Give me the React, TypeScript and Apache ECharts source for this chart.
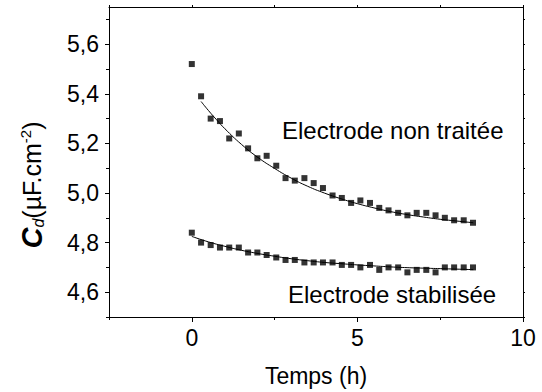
import React, { useEffect, useRef } from "react";
import * as echarts from "echarts";

// Time (h) of each measurement
const hours = [0, 0.28, 0.57, 0.85, 1.13, 1.42, 1.7, 1.98, 2.26, 2.55, 2.83, 3.11, 3.4, 3.68, 3.96, 4.25, 4.53, 4.81, 5.09, 5.38, 5.66, 5.94, 6.23, 6.51, 6.79, 7.08, 7.36, 7.64, 7.92, 8.21, 8.49];
// Electrode non traitée (µF.cm-2)
const untreated = [5.52, 5.39, 5.3, 5.29, 5.22, 5.24, 5.18, 5.14, 5.15, 5.11, 5.06, 5.05, 5.06, 5.04, 5.02, 4.99, 4.98, 4.96, 4.97, 4.96, 4.94, 4.93, 4.92, 4.91, 4.92, 4.92, 4.91, 4.9, 4.89, 4.89, 4.88];
// Electrode stabilisée (µF.cm-2)
const stabilized = [4.84, 4.8, 4.79, 4.78, 4.78, 4.78, 4.76, 4.76, 4.75, 4.74, 4.73, 4.73, 4.72, 4.72, 4.72, 4.72, 4.71, 4.71, 4.7, 4.71, 4.69, 4.7, 4.7, 4.68, 4.69, 4.69, 4.68, 4.7, 4.7, 4.7, 4.7];
// Fitted curves
const fitX1 = [0.28, 0.5, 0.75, 1, 1.5, 2, 2.5, 3, 3.5, 4, 4.5, 5, 5.5, 6, 6.5, 7, 7.5, 8, 8.5];
const fitY1 = [5.369, 5.333, 5.295, 5.259, 5.196, 5.143, 5.099, 5.06, 5.027, 5.0, 4.977, 4.957, 4.94, 4.925, 4.913, 4.903, 4.894, 4.887, 4.88];
const fitX2 = [0, 0.5, 1, 1.5, 2, 2.5, 3, 3.5, 4, 4.5, 5, 5.5, 6, 6.5, 7, 7.5, 8, 8.5];
const fitY2 = [4.825, 4.803, 4.785, 4.769, 4.756, 4.745, 4.735, 4.727, 4.72, 4.715, 4.71, 4.706, 4.702, 4.699, 4.697, 4.695, 4.693, 4.691];
// Tick values
const xMajorTicks = [0, 5, 10];
const xMinorTicks = [-2.5, 2.5, 7.5];
const yMajorTicks = [4.6, 4.8, 5.0, 5.2, 5.4, 5.6];
const yMinorTicks = [4.5, 4.7, 4.9, 5.1, 5.3, 5.5, 5.7];
const labels = ["Electrode non traitée", "Electrode stabilisée"];

const FONT = '"Liberation Sans", Arial, sans-serif';
const BLACK = "#000";

export default function App() {
  const ref = useRef<HTMLDivElement>(null);
  useEffect(() => {
    if (!ref.current) return;
    const chart = echarts.init(ref.current, null, { renderer: "svg" });
    const zip = (xs: number[], ys: number[]) => xs.map((x, i) => [x, ys[i]]);
    const xBase = { type: "value", min: -2.5, max: 10, splitLine: { show: false } };
    const yBase = { type: "value", min: 4.5, max: 5.75, splitLine: { show: false } };
    const line = { show: true, onZero: false, lineStyle: { color: BLACK, width: 1 } };
    const noLine = { show: false, onZero: false };
    chart.setOption({
      animation: false,
      backgroundColor: "#fff",
      grid: { left: 109, right: 19, top: 7, bottom: 75, containLabel: false },
      xAxis: [
        {
          ...xBase,
          position: "bottom",
          axisLine: line,
          axisTick: { show: true, length: 5, customValues: xMajorTicks, lineStyle: { color: BLACK } },
          axisLabel: { customValues: xMajorTicks, color: BLACK, fontSize: 23, fontFamily: FONT, margin: 9 },
          name: "Temps (h)",
          nameLocation: "middle",
          nameGap: 47,
          nameTextStyle: { color: BLACK, fontSize: 23, fontFamily: FONT },
        },
        {
          ...xBase,
          position: "bottom",
          axisLine: noLine,
          axisTick: { show: true, length: 3, customValues: xMinorTicks, lineStyle: { color: BLACK } },
          axisLabel: { show: false },
        },
        {
          ...xBase,
          position: "top",
          interval: 2.5,
          axisLine: line,
          axisTick: { show: true, length: 2, lineStyle: { color: BLACK } },
          axisLabel: { show: false },
        },
      ],
      yAxis: [
        {
          ...yBase,
          position: "left",
          axisLine: line,
          axisTick: { show: true, length: 4, customValues: yMajorTicks, lineStyle: { color: BLACK } },
          axisLabel: {
            customValues: yMajorTicks,
            color: BLACK,
            fontSize: 23,
            fontFamily: FONT,
            margin: 10,
            formatter: (v: number) => v.toFixed(1).replace(".", ","),
          },
        },
        {
          ...yBase,
          position: "left",
          axisLine: noLine,
          axisTick: { show: true, length: 3, customValues: yMinorTicks, lineStyle: { color: BLACK } },
          axisLabel: { show: false },
        },
        {
          ...yBase,
          position: "right",
          axisLine: line,
          axisTick: { show: true, length: 2, customValues: [...yMinorTicks, ...yMajorTicks], lineStyle: { color: BLACK } },
          axisLabel: { show: false },
        },
      ],
      series: [
        {
          type: "line",
          data: zip(fitX1, fitY1),
          smooth: true,
          showSymbol: false,
          lineStyle: { color: BLACK, width: 1 },
          z: 2,
        },
        {
          type: "line",
          data: zip(fitX2, fitY2),
          smooth: true,
          showSymbol: false,
          lineStyle: { color: BLACK, width: 1 },
          z: 2,
        },
        {
          type: "scatter",
          name: labels[0],
          data: zip(hours, untreated),
          symbol: "rect",
          symbolSize: 6,
          itemStyle: { color: BLACK },
          z: 3,
        },
        {
          type: "scatter",
          name: labels[1],
          data: zip(hours, stabilized),
          symbol: "rect",
          symbolSize: 6,
          itemStyle: { color: BLACK },
          z: 3,
        },
      ],
      graphic: [
        {
          type: "text",
          left: 282,
          top: 118,
          style: { text: labels[0], fill: BLACK, fontSize: 24, fontFamily: FONT },
        },
        {
          type: "text",
          left: 288,
          top: 282,
          style: { text: labels[1], fill: BLACK, fontSize: 24, fontFamily: FONT },
        },
        {
          type: "text",
          x: 32,
          y: 185,
          rotation: Math.PI / 2,
          style: {
            text: "{c|C}{d|d}{n|(µF.cm}{s|-2}{n|)}",
            align: "center",
            verticalAlign: "middle",
            fill: BLACK,
            fontFamily: FONT,
            rich: {
              c: { fontSize: 29, fontWeight: "bold", fontStyle: "italic", fontFamily: FONT, fill: BLACK, verticalAlign: "middle" },
              d: { fontSize: 16, fontStyle: "italic", fontFamily: FONT, fill: BLACK, verticalAlign: "bottom", padding: [8, 0, 0, 0] },
              n: { fontSize: 25, fontFamily: FONT, fill: BLACK, verticalAlign: "middle" },
              s: { fontSize: 15, fontFamily: FONT, fill: BLACK, verticalAlign: "top", padding: [0, 0, 11, 0] },
            },
          },
        },
      ],
    });
    return () => chart.dispose();
  }, []);
  return <div ref={ref} style={{ position: "fixed", left: 0, top: 0, width: 542, height: 392 }} />;
}
